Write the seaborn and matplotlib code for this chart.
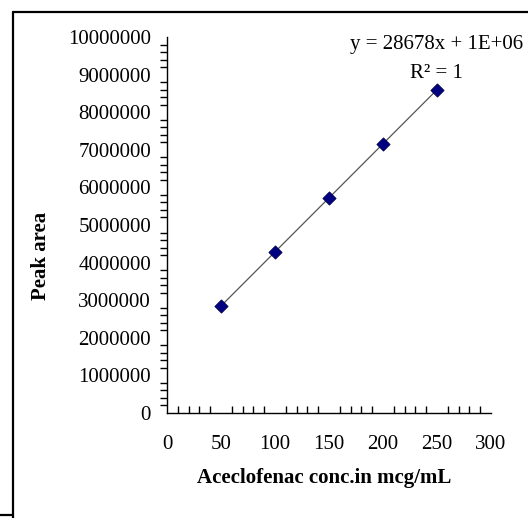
import numpy as np
import pandas as pd
import seaborn as sns
import matplotlib
matplotlib.use("Agg")
import matplotlib.pyplot as plt
from matplotlib.lines import Line2D
from matplotlib.ticker import MultipleLocator, FixedLocator

conc = [50, 100, 150, 200, 250]
peak_area = [2850000, 4280000, 5720000, 7160000, 8600000]
x_ticks = [0, 50, 100, 150, 200, 250, 300]
y_ticks = [0, 1000000, 2000000, 3000000, 4000000, 5000000, 6000000, 7000000, 8000000, 9000000, 10000000]
equation = "y = 28678x + 1E+06"
r2_text = "R² = 1"

sns.set_theme(style="white")
plt.rcParams['font.family'] = ['Liberation Serif', 'DejaVu Serif']

df = pd.DataFrame({"conc": conc, "area": peak_area})

W, H = 528, 518
fig = plt.figure(figsize=(W/100, H/100), dpi=100)
ax = fig.add_axes([167/W, 1-413/H, (491-167)/W, (413-37)/H])

# trendline
coef = np.polyfit(df["conc"], df["area"], 1)
tx = np.array([min(conc), max(conc)])
ax.plot(tx, np.polyval(coef, tx), color="#555555", lw=0.9, zorder=1)

sns.scatterplot(data=df, x="conc", y="area", ax=ax, marker="D", s=45,
                color="#000080", edgecolor="#000050", linewidth=0.6, zorder=3, legend=False)

ax.set_xlim(0, 300)
ax.set_ylim(0, 10000000)
ax.xaxis.set_major_locator(FixedLocator(x_ticks))
ax.yaxis.set_major_locator(FixedLocator(y_ticks))
ax.xaxis.set_minor_locator(MultipleLocator(10))
ax.yaxis.set_minor_locator(MultipleLocator(200000))
ax.set_xticklabels([str(v) for v in x_ticks])
ax.set_yticklabels([str(v) for v in y_ticks])

for s in ["top", "right"]:
    ax.spines[s].set_visible(False)
for s in ["left", "bottom"]:
    ax.spines[s].set_color("black")
    ax.spines[s].set_linewidth(1.0)

ax.tick_params(axis="both", which="major", direction="inout", length=9, width=1,
               color="black", labelsize=15, labelcolor="black")
ax.tick_params(axis="x", which="major", pad=11)
ax.tick_params(axis="y", which="major", pad=7)
ax.tick_params(axis="x", which="minor", direction="in", length=5, width=1, color="black", bottom=True)
ax.tick_params(axis="y", which="minor", direction="out", length=5, width=1, color="black", left=True)

ax.set_xlabel("Aceclofenac conc.in mcg/mL", fontsize=15, fontweight="bold", color="black")
ax.set_ylabel("Peak area", fontsize=15, fontweight="bold", color="black")
ax.xaxis.set_label_coords((324-167)/324, (413-478)/376)
ax.xaxis.label.set_va("center")
ax.yaxis.set_label_coords((41-167)/324, (413-256)/376)
ax.yaxis.label.set_va("center")

fig.text(437/W, 1-45/H, equation, ha="center", va="center", fontsize=15, color="black")
fig.text(436/W, 1-73/H, r2_text, ha="center", va="center", fontsize=15, color="black")

# outer border
fig.add_artist(Line2D([13/W, 13/W], [0, 1-12/H], transform=fig.transFigure, color="black", lw=1.6))
fig.add_artist(Line2D([13/W, 1], [1-12/H, 1-12/H], transform=fig.transFigure, color="black", lw=1.6))
fig.add_artist(Line2D([0, 13/W], [3/H, 3/H], transform=fig.transFigure, color="black", lw=1.6))

fig.savefig("out.png", dpi=100)
